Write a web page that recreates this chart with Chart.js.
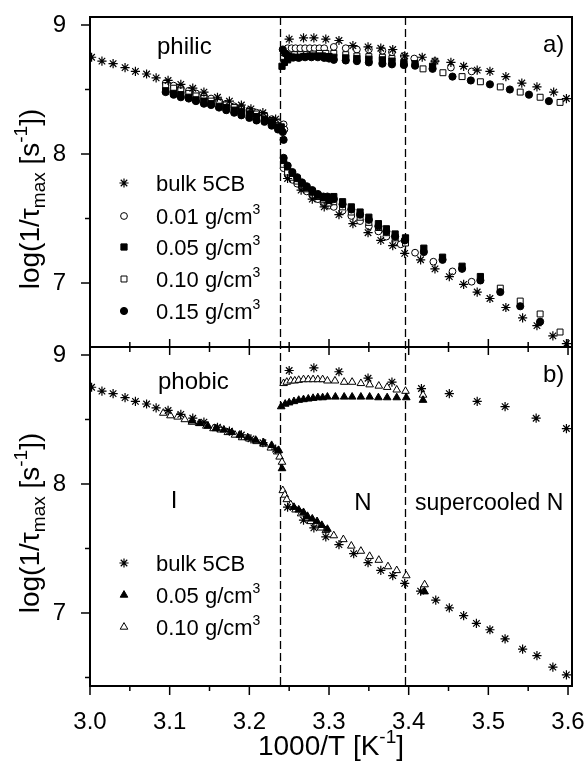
<!DOCTYPE html>
<html>
<head>
<meta charset="utf-8">
<script src="https://cdn.jsdelivr.net/npm/chart.js@4.4.1/dist/chart.umd.min.js"></script>
<style>
  html, body { margin: 0; padding: 0; background: #fff; }
  #wrap { width: 584px; height: 767px; }
</style>
</head>
<body>
<div id="wrap"><canvas id="chart" width="584" height="767"></canvas></div>
<script>
// Axis ticks
const xMajor = [3.0, 3.1, 3.2, 3.3, 3.4, 3.5, 3.6];
const xMinor = [3.05, 3.15, 3.25, 3.35, 3.45, 3.55];
const yMajor = [7, 8, 9];
const yMinor = [6.5, 7.5, 8.5];
const phaseBounds = [3.238, 3.395];

// bulk 5CB, isotropic part (same in both panels)
const bulkIso = [[3.002,8.75],[3.015,8.72],[3.029,8.70],[3.044,8.67],[3.057,8.64],[3.071,8.62],[3.083,8.59],
  [3.098,8.57],[3.114,8.54],[3.129,8.51],[3.143,8.48],[3.160,8.44],[3.175,8.41],[3.190,8.38],[3.202,8.35],
  [3.217,8.32],[3.233,8.27]];
// bulk 5CB, nematic part as plotted in panel a)
const bulkTopN = [[3.250,8.89],[3.268,8.90],[3.281,8.90],[3.296,8.89],[3.3125,8.88],[3.330,8.84],[3.349,8.83],
  [3.365,8.82],[3.380,8.81],[3.395,8.76],[3.417,8.75],[3.433,8.72],[3.453,8.71],[3.469,8.68],[3.486,8.65],
  [3.502,8.64],[3.522,8.60],[3.542,8.55],[3.561,8.52],[3.582,8.48],[3.598,8.43],
  [3.248,7.81],[3.265,7.72],[3.279,7.65],[3.294,7.59],[3.3125,7.53],[3.330,7.46],[3.349,7.39],[3.365,7.33],
  [3.380,7.29],[3.395,7.23],[3.415,7.18],[3.433,7.11],[3.451,7.05],[3.469,6.99],[3.486,6.93],[3.502,6.88],
  [3.522,6.81],[3.543,6.73],[3.561,6.67],[3.581,6.59],[3.598,6.53]];
// bulk 5CB, nematic part as plotted in panel b)
const bulkBotN = [[3.250,8.88],[3.281,8.90],[3.3125,8.87],[3.349,8.82],[3.379,8.79],[3.416,8.74],[3.451,8.70],
  [3.486,8.64],[3.521,8.60],[3.560,8.51],[3.598,8.43],
  [3.248,7.82],[3.268,7.72],[3.281,7.66],[3.296,7.59],[3.3125,7.53],[3.331,7.46],[3.349,7.39],[3.365,7.33],
  [3.380,7.29],[3.395,7.23],[3.415,7.17],[3.434,7.10],[3.451,7.04],[3.469,6.98],[3.485,6.92],[3.502,6.87],
  [3.521,6.80],[3.543,6.72],[3.561,6.67],[3.581,6.58],[3.598,6.52]];

// philic 0.01 g/cm3
const philic01 = [[3.095,8.55],[3.105,8.53],[3.114,8.51],[3.124,8.49],[3.133,8.47],[3.143,8.45],[3.152,8.43],
  [3.162,8.41],[3.171,8.39],[3.181,8.37],[3.190,8.36],[3.200,8.34],[3.209,8.32],[3.219,8.30],[3.228,8.27],
  [3.236,8.24],[3.243,8.23],[3.244,8.19],
  [3.243,8.80],[3.248,8.82],[3.253,8.82],[3.258,8.82],[3.264,8.82],[3.270,8.82],[3.276,8.82],[3.282,8.82],
  [3.288,8.82],[3.294,8.82],[3.306,8.83],[3.321,8.82],[3.335,8.81],[3.350,8.81],[3.367,8.80],[3.379,8.79],
  [3.394,8.76],[3.407,8.74],[3.433,8.72],[3.453,8.67],[3.479,8.64],
  [3.243,7.89],[3.248,7.84],[3.254,7.80],[3.260,7.77],[3.266,7.74],[3.272,7.71],[3.279,7.68],[3.286,7.65],
  [3.293,7.62],[3.300,7.60],[3.306,7.59],[3.317,7.56],[3.328,7.52],[3.339,7.48],[3.350,7.44],[3.362,7.40],
  [3.372,7.36],[3.383,7.32],[3.390,7.30],[3.408,7.235],[3.431,7.165],[3.455,7.09],[3.479,7.01]];
// philic 0.05 g/cm3
const philic05 = [[3.095,8.49],[3.105,8.47],[3.114,8.46],[3.124,8.44],[3.133,8.42],[3.143,8.41],[3.152,8.39],
  [3.162,8.37],[3.171,8.36],[3.181,8.34],[3.190,8.33],[3.200,8.31],[3.209,8.29],[3.219,8.27],[3.228,8.25],
  [3.236,8.21],[3.240,8.21],
  [3.241,8.68],[3.244,8.71],[3.248,8.73],[3.253,8.745],[3.260,8.75],[3.268,8.755],[3.276,8.76],[3.284,8.76],
  [3.292,8.76],[3.300,8.755],[3.306,8.75],[3.321,8.745],[3.335,8.74],[3.350,8.735],[3.367,8.73],[3.379,8.72],
  [3.394,8.71],[3.408,8.70],[3.430,8.68],
  [3.243,7.95],[3.248,7.90],[3.254,7.85],[3.260,7.81],[3.266,7.77],[3.272,7.74],[3.279,7.71],[3.286,7.68],
  [3.293,7.66],[3.300,7.64],[3.306,7.67],[3.317,7.63],[3.328,7.59],[3.339,7.55],[3.350,7.51],[3.362,7.46],
  [3.372,7.42],[3.383,7.38],[3.396,7.35],[3.419,7.27],[3.4425,7.20],[3.467,7.13],[3.490,7.05]];
// philic 0.10 g/cm3
const philic10 = [[3.095,8.53],[3.105,8.51],[3.114,8.49],[3.124,8.47],[3.133,8.45],[3.143,8.43],[3.152,8.41],
  [3.162,8.40],[3.171,8.38],[3.181,8.36],[3.190,8.35],[3.200,8.33],[3.209,8.31],[3.219,8.29],[3.228,8.26],
  [3.236,8.22],
  [3.243,8.74],[3.250,8.76],[3.257,8.77],[3.264,8.77],[3.272,8.77],[3.280,8.775],[3.288,8.78],[3.296,8.78],
  [3.306,8.78],[3.321,8.77],[3.335,8.76],[3.350,8.755],[3.367,8.75],[3.379,8.74],[3.394,8.70],
  [3.418,8.66],[3.443,8.63],[3.467,8.60],[3.490,8.56],[3.515,8.52],[3.540,8.48],[3.565,8.44],[3.590,8.40],
  [3.243,7.92],[3.248,7.86],[3.254,7.82],[3.260,7.79],[3.266,7.76],[3.272,7.73],[3.279,7.70],[3.286,7.67],
  [3.293,7.645],[3.300,7.62],[3.306,7.63],[3.317,7.59],[3.328,7.55],[3.339,7.51],[3.350,7.47],[3.362,7.43],
  [3.372,7.39],[3.383,7.35],[3.396,7.31],[3.515,6.96],[3.540,6.86],[3.565,6.76],[3.590,6.62]];
// philic 0.15 g/cm3
const philic15 = [[3.095,8.48],[3.105,8.46],[3.114,8.44],[3.124,8.43],[3.133,8.41],[3.143,8.39],[3.152,8.38],
  [3.162,8.36],[3.171,8.34],[3.181,8.32],[3.190,8.30],[3.200,8.28],[3.209,8.26],[3.219,8.25],[3.228,8.22],
  [3.236,8.19],[3.242,8.17],[3.243,8.11],
  [3.242,8.81],[3.245,8.78],[3.249,8.76],[3.255,8.75],[3.262,8.745],[3.270,8.75],[3.278,8.75],[3.286,8.75],
  [3.294,8.745],[3.300,8.74],[3.306,8.73],[3.321,8.725],[3.335,8.72],[3.350,8.71],[3.367,8.70],[3.379,8.695],
  [3.394,8.69],[3.408,8.685],[3.430,8.66],[3.455,8.60],[3.478,8.57],[3.502,8.54],[3.527,8.50],[3.551,8.46],
  [3.576,8.41],
  [3.243,7.97],[3.248,7.91],[3.254,7.86],[3.260,7.82],[3.266,7.78],[3.272,7.75],[3.279,7.72],[3.286,7.69],
  [3.293,7.67],[3.298,7.67],[3.306,7.65],[3.317,7.61],[3.328,7.57],[3.339,7.53],[3.350,7.49],[3.362,7.44],
  [3.372,7.40],[3.383,7.36],[3.395,7.33],[3.419,7.24],[3.4425,7.18],[3.467,7.11],[3.490,7.02],[3.515,6.93],
  [3.540,6.82],[3.565,6.70]];

// phobic 0.05 g/cm3
const phobic05 = [[3.128,8.49],[3.138,8.47],[3.148,8.45],[3.158,8.43],[3.168,8.42],[3.178,8.40],[3.188,8.38],
  [3.198,8.36],[3.208,8.34],[3.218,8.32],[3.228,8.30],[3.237,8.26],[3.241,8.12],
  [3.240,8.60],[3.245,8.62],[3.250,8.63],[3.256,8.64],[3.262,8.65],[3.268,8.655],[3.274,8.66],[3.280,8.665],
  [3.286,8.67],[3.292,8.67],[3.298,8.675],[3.308,8.675],[3.319,8.675],[3.329,8.675],[3.340,8.675],[3.351,8.675],
  [3.362,8.67],[3.373,8.67],[3.385,8.67],[3.397,8.67],[3.418,8.65],
  [3.256,7.82],[3.262,7.80],[3.268,7.78],[3.273,7.75],[3.279,7.73],[3.285,7.71],[3.291,7.68],[3.298,7.65],
  [3.420,7.165]];
// phobic 0.10 g/cm3
const phobic10 = [[3.092,8.55],[3.101,8.53],[3.110,8.52],[3.119,8.50],[3.128,8.48],[3.137,8.47],[3.146,8.45],
  [3.155,8.43],[3.164,8.42],[3.173,8.40],[3.182,8.38],[3.191,8.36],[3.200,8.35],[3.209,8.33],[3.218,8.31],
  [3.227,8.28],[3.235,8.25],[3.238,8.21],[3.241,8.17],
  [3.243,8.78],[3.247,8.79],[3.252,8.80],[3.257,8.80],[3.262,8.805],[3.268,8.81],[3.274,8.81],[3.280,8.81],
  [3.286,8.81],[3.292,8.81],[3.298,8.80],[3.3075,8.80],[3.319,8.79],[3.329,8.79],[3.340,8.78],[3.351,8.77],
  [3.3625,8.76],[3.373,8.75],[3.385,8.73],[3.396,8.72],[3.418,8.69],
  [3.242,7.95],[3.2445,7.915],[3.247,7.88],[3.252,7.84],[3.258,7.80],[3.265,7.77],[3.271,7.73],[3.277,7.71],
  [3.283,7.69],[3.290,7.66],[3.296,7.64],[3.306,7.60],[3.318,7.57],[3.328,7.52],[3.340,7.48],[3.351,7.44],
  [3.3625,7.41],[3.374,7.36],[3.385,7.33],[3.397,7.29],[3.420,7.22]];

const FONT = '"Liberation Sans", Arial, Helvetica, sans-serif';

const styles = {
    bulk: { pointStyle: 'star', radius: 4.6, bg: '#000', border: '#000', bw: 1.2 },
    c01: { pointStyle: 'circle', radius: 3.4, bg: '#fff', border: '#000', bw: 1 },
    c05: { pointStyle: 'rect', radius: 4.4, bg: '#000', border: '#000', bw: 1 },
    c10: { pointStyle: 'rect', radius: 4.2, bg: '#fff', border: '#000', bw: 1 },
    c15: { pointStyle: 'circle', radius: 3.6, bg: '#000', border: '#000', bw: 1 },
    t05: { pointStyle: 'triangle', radius: 4.4, bg: '#000', border: '#000', bw: 1 },
    t10: { pointStyle: 'triangle', radius: 4.4, bg: '#fff', border: '#000', bw: 1 }
};

function series(label, pts, style, axis, order) {
    const s = styles[style];
    return {
        label: label,
        data: pts.map(p => ({ x: p[0], y: p[1] })),
        yAxisID: axis,
        order: order,
        showLine: false,
        pointStyle: s.pointStyle,
        pointRadius: s.radius,
        pointHoverRadius: s.radius,
        pointBackgroundColor: s.bg,
        pointBorderColor: s.border,
        pointBorderWidth: s.bw
    };
}

const datasets = [
    series('bulk 5CB', bulkIso.concat(bulkTopN), 'bulk', 'yTop', 0),
    series('0.15 g/cm3', philic15, 'c15', 'yTop', 1),
    series('0.05 g/cm3', philic05, 'c05', 'yTop', 2),
    series('0.10 g/cm3', philic10, 'c10', 'yTop', 3),
    series('0.01 g/cm3', philic01, 'c01', 'yTop', 4),
    series('bulk 5CB', bulkIso.concat(bulkBotN), 'bulk', 'yBot', 0),
    series('0.05 g/cm3', phobic05, 't05', 'yBot', 1),
    series('0.10 g/cm3', phobic10, 't10', 'yBot', 2)
];

// text with super/subscripts: parts = [text, size, baseline shift]
function richText(ctx, parts, x, y, align) {
    let w = 0;
    parts.forEach(p => {
        ctx.font = p[1] + 'px ' + FONT;
        w += ctx.measureText(p[0]).width;
    });
    let cx = align === 'center' ? x - w / 2 : x;
    parts.forEach(p => {
        ctx.font = p[1] + 'px ' + FONT;
        ctx.fillText(p[0], cx, y + p[2]);
        cx += ctx.measureText(p[0]).width;
    });
}

function marker(ctx, style, x, y) {
    const s = styles[style];
    ctx.fillStyle = s.bg;
    ctx.strokeStyle = s.border;
    ctx.lineWidth = s.bw;
    Chart.helpers.drawPoint(ctx, { pointStyle: s.pointStyle, radius: s.radius, borderWidth: s.bw, rotation: 0 }, x, y);
}

// keep tick labels from shrinking the plot area
function noEdgePadding(s) {
    s.paddingLeft = 0;
    s.paddingRight = 0;
    s.paddingTop = 0;
    s.paddingBottom = 0;
}

const decor = {
    id: 'decor',
    beforeDatasetsDraw(chart) {
        const ctx = chart.ctx;
        const area = chart.chartArea;
        const xs = chart.scales.x;
        ctx.save();
        ctx.strokeStyle = '#000';
        ctx.lineWidth = 1.3;
        ctx.setLineDash([8, 4]);
        phaseBounds.forEach(v => {
            const px = Math.round(xs.getPixelForValue(v)) + 0.5;
            ctx.beginPath();
            ctx.moveTo(px, area.top);
            ctx.lineTo(px, area.bottom);
            ctx.stroke();
        });
        ctx.restore();
    },
    afterDraw(chart) {
        const ctx = chart.ctx;
        const xs = chart.scales.x;
        const top = chart.scales.yTop;
        const bot = chart.scales.yBot;
        const left = xs.left, right = xs.right;
        ctx.save();
        ctx.strokeStyle = '#000';
        ctx.fillStyle = '#000';
        ctx.lineWidth = 2;
        [top, bot].forEach(s => {
            ctx.strokeRect(left, s.top, right - left, s.bottom - s.top);
        });

        ctx.lineWidth = 1.5;
        function tick(x1, y1, x2, y2) {
            ctx.beginPath();
            ctx.moveTo(x1, y1);
            ctx.lineTo(x2, y2);
            ctx.stroke();
        }
        // y ticks, outward
        [top, bot].forEach(s => {
            yMajor.forEach(v => {
                if (v >= s.min && v <= s.max) { const py = s.getPixelForValue(v); tick(left - 9, py, left, py); }
            });
            yMinor.forEach(v => {
                if (v >= s.min && v <= s.max) { const py = s.getPixelForValue(v); tick(left - 5, py, left, py); }
            });
        });
        // x ticks: outward at the bottom, inward at the shared border
        xMajor.forEach(v => {
            const px = xs.getPixelForValue(v);
            tick(px, bot.bottom, px, bot.bottom + 9);
            tick(px, top.bottom, px, top.bottom - 8);
            tick(px, bot.top, px, bot.top + 8);
        });
        xMinor.forEach(v => {
            const px = xs.getPixelForValue(v);
            tick(px, bot.bottom, px, bot.bottom + 5);
            tick(px, top.bottom, px, top.bottom - 5);
            tick(px, bot.top, px, bot.top + 5);
        });

        // axis titles
        ctx.textBaseline = 'alphabetic';
        const yTitle = [['log(1/\u03C4', 28, 0], ['max', 19, 6], [' [s', 28, 0], ['-1', 19, -12], ['])', 28, 0]];
        [[top, 199], [bot, 523]].forEach(t => {
            ctx.save();
            ctx.translate(39, t[1]);
            ctx.rotate(-Math.PI / 2);
            richText(ctx, yTitle, 0, 0, 'center');
            ctx.restore();
        });
        richText(ctx, [['1000/T [K', 28, 0], ['-1', 19, -12], [']', 28, 0]], (left + right) / 2, 755, 'center');

        // panel labels
        ctx.font = '24px ' + FONT;
        ctx.textAlign = 'left';
        ctx.fillText('philic', 157, 54);
        ctx.fillText('a)', 543, 52);
        ctx.fillText('phobic', 158, 389);
        ctx.fillText('b)', 543, 382);
        ctx.textAlign = 'center';
        ctx.fillText('I', 174, 508);
        ctx.fillText('N', 363, 510);
        ctx.textAlign = 'left';
        ctx.font = '23px ' + FONT;
        ctx.fillText('supercooled N', 415, 510);

        // legends
        const legTop = [['bulk', 'bulk 5CB', null], ['c01', '0.01 g/cm', '3'], ['c05', '0.05 g/cm', '3'],
                        ['c10', '0.10 g/cm', '3'], ['c15', '0.15 g/cm', '3']];
        const legTopY = [183, 216, 247, 279, 311];
        const legBot = [['bulk', 'bulk 5CB', null], ['t05', '0.05 g/cm', '3'], ['t10', '0.10 g/cm', '3']];
        const legBotY = [563, 595, 627];
        function drawLegend(items, ys) {
            items.forEach((it, i) => {
                marker(ctx, it[0], 124, ys[i]);
                ctx.fillStyle = '#000';
                const parts = [[it[1], 22, 0]];
                if (it[2]) parts.push([it[2], 14, -10]);
                richText(ctx, parts, 156, ys[i] + 8, 'left');
            });
        }
        drawLegend(legTop, legTopY);
        drawLegend(legBot, legBotY);
        ctx.restore();
    }
};

const tickFont = { family: FONT, size: 24 };

new Chart(document.getElementById('chart'), {
    type: 'scatter',
    data: { datasets: datasets },
    plugins: [decor],
    options: {
        responsive: false,
        animation: false,
        layout: { padding: { top: 17, right: 12, left: 0, bottom: 0 } },
        plugins: { legend: { display: false }, tooltip: { enabled: false } },
        scales: {
            x: {
                type: 'linear',
                min: 3.0,
                max: 3.605,
                afterBuildTicks: s => { s.ticks = xMajor.map(v => ({ value: v })); },
                afterFit: s => { s.height = 81; noEdgePadding(s); },
                grid: { display: false },
                border: { display: false },
                ticks: { font: tickFont, color: '#000', padding: 14, maxRotation: 0, autoSkip: false,
                         callback: v => v.toFixed(1) }
            },
            // left boxes are placed in reverse order, so the lower panel is listed first
            yBot: {
                type: 'linear',
                position: 'left',
                stack: 'panels',
                stackWeight: 339,
                min: 6.434,
                max: 9.062,
                afterBuildTicks: s => { s.ticks = yMajor.map(v => ({ value: v })); },
                afterFit: s => { s.width = 90; noEdgePadding(s); },
                grid: { display: false },
                border: { display: false },
                ticks: { font: tickFont, color: '#000', padding: 16, callback: v => String(v) }
            },
            yTop: {
                type: 'linear',
                position: 'left',
                stack: 'panels',
                stackWeight: 330,
                min: 6.504,
                max: 9.062,
                afterBuildTicks: s => { s.ticks = yMajor.map(v => ({ value: v })); },
                afterFit: s => { s.width = 90; noEdgePadding(s); },
                grid: { display: false },
                border: { display: false },
                ticks: { font: tickFont, color: '#000', padding: 16, callback: v => String(v) }
            }
        }
    }
});
</script>
</body>
</html>
